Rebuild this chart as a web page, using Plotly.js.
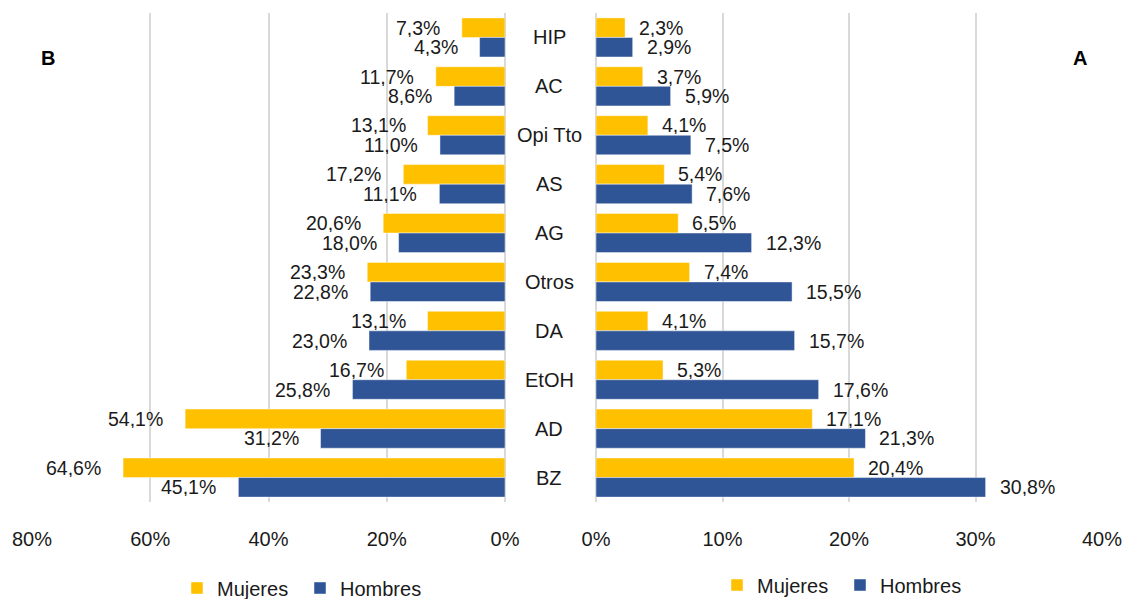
<!DOCTYPE html>
<html>
<head>
<meta charset="utf-8">
<script src="https://cdn.plot.ly/plotly-3.0.1.min.js"></script>
<style>
html,body{margin:0;padding:0;background:#fff;}
#chart{width:1123px;height:599px;}
</style>
</head>
<body>
<div id="chart"></div>
<script>
var categories = ['HIP','AC','Opi Tto','AS','AG','Otros','DA','EtOH','AD','BZ'];
var seriesNames = ['Mujeres','Hombres'];
var bMujeres = [7.3, 11.7, 13.1, 17.2, 20.6, 23.3, 13.1, 16.7, 54.1, 64.6];
var bHombres = [4.3, 8.6, 11.0, 11.1, 18.0, 22.8, 23.0, 25.8, 31.2, 45.1];
var aMujeres = [2.3, 3.7, 4.1, 5.4, 6.5, 7.4, 4.1, 5.3, 17.1, 20.4];
var aHombres = [2.9, 5.9, 7.5, 7.6, 12.3, 15.5, 15.7, 17.6, 21.3, 30.8];
var bTicks = [80, 60, 40, 20, 0];
var aTicks = [0, 10, 20, 30, 40];
var panelLabels = ['B', 'A'];

var YELLOW = '#FFC000';
var BLUE = '#2F5597';
var FONT = 'Liberation Sans, Arial, sans-serif';
var TXT = '#1a1a1a';

function fmt(v){ return v.toFixed(1).replace('.', ',') + '%'; }
function pct(v){ return v + '%'; }

function bar(name, vals, color, xa, legendId){
  return {
    type: 'bar', orientation: 'h', name: name,
    y: categories, x: vals, xaxis: xa, yaxis: 'y',
    marker: {color: color, line: {color: 'rgba(255,255,255,0.45)', width: 1}},
    legend: legendId, showlegend: true, hoverinfo: 'x+y'
  };
}

var data = [
  bar(seriesNames[0], bMujeres, YELLOW, 'x', 'legend'),
  bar(seriesNames[1], bHombres, BLUE, 'x', 'legend'),
  bar(seriesNames[0], aMujeres, YELLOW, 'x2', 'legend2'),
  bar(seriesNames[1], aHombres, BLUE, 'x2', 'legend2')
];

var annotations = [];
var OFF = 9.8;
function addLabels(vals, xref, dy, side){
  vals.forEach(function(v, i){
    annotations.push({
      xref: xref, yref: 'y', x: v, y: categories[i],
      text: fmt(v), showarrow: false, borderpad: 0, height: 18,
      xanchor: side < 0 ? 'right' : 'left', yanchor: 'middle',
      xshift: side < 0 ? -21 : 13, yshift: dy,
      font: {family: FONT, size: 19.5, color: TXT}
    });
  });
}
addLabels(bMujeres, 'x', OFF, -1);
addLabels(bHombres, 'x', -OFF, -1);
addLabels(aMujeres, 'x2', OFF, 1);
addLabels(aHombres, 'x2', -OFF, 1);

categories.forEach(function(c){
  annotations.push({
    xref: 'paper', yref: 'y', x: 549/1123, y: c, text: c, showarrow: false,
    xanchor: 'center', yanchor: 'middle',
    font: {family: FONT, size: 20, color: TXT}
  });
});

annotations.push({
  xref: 'paper', yref: 'paper', x: 48/1123, y: (502-57.5)/489, text: '<b>' + panelLabels[0] + '</b>',
  showarrow: false, xanchor: 'center', yanchor: 'middle',
  font: {family: FONT, size: 20, color: '#000'}
});
annotations.push({
  xref: 'paper', yref: 'paper', x: 1080/1123, y: (502-57.5)/489, text: '<b>' + panelLabels[1] + '</b>',
  showarrow: false, xanchor: 'center', yanchor: 'middle',
  font: {family: FONT, size: 20, color: '#000'}
});

var axisCommon = {
  showgrid: true, gridcolor: '#d9d9d9', gridwidth: 2,
  zeroline: true, zerolinecolor: '#d9d9d9', zerolinewidth: 2,
  showline: false, ticks: '', ticklabelstandoff: 23,
  tickfont: {family: FONT, size: 20, color: TXT},
  fixedrange: true
};

var layout = {
  width: 1123, height: 599,
  margin: {l: 0, r: 0, t: 13, b: 97, pad: 0},
  paper_bgcolor: '#fff', plot_bgcolor: '#fff',
  barmode: 'group', bargap: 0.2, bargroupgap: 0,
  showlegend: true,
  xaxis: Object.assign({}, axisCommon, {
    domain: [32/1123, 505/1123], range: [80, 0],
    tickmode: 'array', tickvals: bTicks, ticktext: bTicks.map(pct)
  }),
  xaxis2: Object.assign({}, axisCommon, {
    domain: [596/1123, 1102/1123], range: [0, 40], anchor: 'y',
    tickmode: 'array', tickvals: aTicks, ticktext: aTicks.map(pct)
  }),
  yaxis: {
    type: 'category', autorange: 'reversed', showticklabels: false,
    showgrid: false, zeroline: false, showline: false, ticks: '', fixedrange: true
  },
  legend: {
    orientation: 'h', xref: 'container', yref: 'container',
    x: 177/1123, y: 1 - 588/599, xanchor: 'left', yanchor: 'middle',
    font: {family: FONT, size: 20, color: TXT}, entrywidth: 78,
    bgcolor: 'rgba(0,0,0,0)', traceorder: 'normal'
  },
  legend2: {
    orientation: 'h', xref: 'container', yref: 'container',
    x: 717/1123, y: 1 - 585/599, xanchor: 'left', yanchor: 'middle',
    font: {family: FONT, size: 20, color: TXT}, entrywidth: 78,
    bgcolor: 'rgba(0,0,0,0)', traceorder: 'normal'
  },
  annotations: annotations
};

Plotly.newPlot('chart', data, layout, {displayModeBar: false, staticPlot: true});
</script>
</body>
</html>
